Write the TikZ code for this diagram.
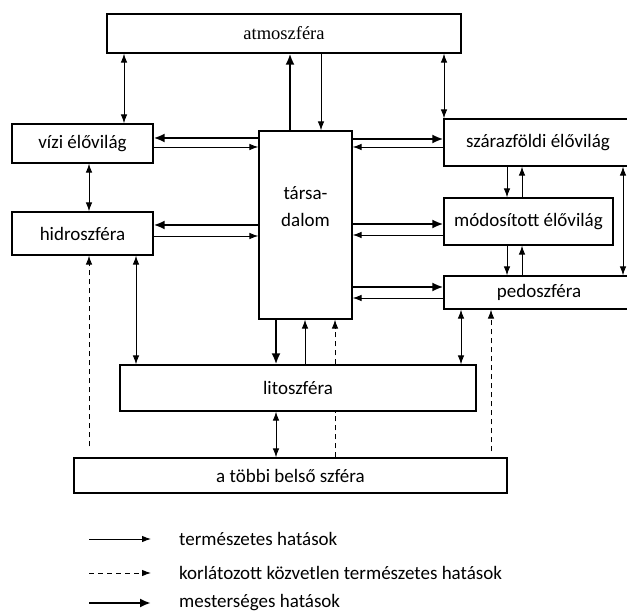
\documentclass[tikz,border=0pt]{standalone}
\usepackage{fontspec}
\setmainfont{Carlito}
\newfontfamily\atmfont{Liberation Serif}
\usetikzlibrary{arrows.meta}

\begin{document}
\begin{tikzpicture}[x=1pt,y=-1pt,>={Latex[length=9pt,width=6.5pt]},
        font=\fontsize{19}{22}\selectfont,
        main node/.style={rectangle,draw,line width=1.2pt,inner sep=0pt},
        natural/.style={line width=0.9pt},
        limited/.style={line width=0.9pt,dash pattern=on 5pt off 4pt},
        artificial/.style={line width=2.8pt,>={Latex[length=11pt,width=9pt]}}]

    \useasboundingbox (0,0) rectangle (627,612);

    \node[main node,minimum width=354pt,minimum height=39pt,font=\atmfont\fontsize{18.5}{22}\selectfont] (atm) at (284,33.5) {atmoszféra};
    \node[main node,minimum width=141pt,minimum height=39pt] (vizi) at (82.5,143.5) {vízi élővilág};
    \node[main node,minimum width=141pt,minimum height=43pt] (hidro) at (82.5,233.5) {hidroszféra};
    \node[main node,minimum width=93pt,minimum height=188pt,align=center,text depth=36pt] (tars) at (305.5,225) {társa-\\[5pt]dalom};
    \node[main node,minimum width=188pt,minimum height=47pt] (szaraz) at (538,142.5) {szárazföldi élővilág};
    \node[main node,minimum width=169pt,minimum height=47pt] (modos) at (528.5,221.5) {módosított élővilág};
    \node[main node,minimum width=190pt,minimum height=33pt] (pedo) at (539,292.5) {pedoszféra};
    \node[main node,minimum width=356pt,minimum height=46pt] (lito) at (298,388) {litoszféra};
    \node[main node,minimum width=433pt,minimum height=35pt] (tobbi) at (290.5,475.5) {a többi belső szféra};

    % up and down
    \draw[natural,<->] (atm.south -| 124,0) -- (vizi.north -| 124,0);
    \draw[artificial,->] (tars.north -| 290,0) -- (atm.south -| 290,0);
    \draw[natural,->] (atm.south -| 321,0) -- (tars.north -| 321,0);
    \draw[natural,<->] (atm.south -| 444,0) -- (szaraz.north -| 444,0);
    \draw[natural,<->] (vizi.south -| 89,0) -- (hidro.north -| 89,0);
    \draw[limited,->,shorten <=11pt] (tobbi.north -| 89,0) -- (hidro.south -| 89,0);
    \draw[natural,<->] (hidro.south -| 136,0) -- (lito.north -| 136,0);
    \draw[artificial,->] (tars.south -| 276,0) -- (lito.north -| 276,0);
    \draw[natural,->] (lito.north -| 305,0) -- (tars.south -| 305,0);
    \draw[limited] (tobbi.north -| 335,0) -- (lito.south -| 335,0);
    \draw[limited,->] (lito.north -| 335,0) -- (tars.south -| 335,0);
    \draw[natural,<->] (pedo.south -| 461,0) -- (lito.north -| 461,0);
    \draw[limited,->,shorten <=6pt] (tobbi.north -| 491,0) -- (pedo.south -| 491,0);
    \draw[natural,<->] (lito.south -| 276,0) -- (tobbi.north -| 276,0);
    \draw[natural,->] (szaraz.south -| 507,0) -- (modos.north -| 507,0);
    \draw[natural,->] (modos.north -| 522,0) -- (szaraz.south -| 522,0);
    \draw[natural,->] (modos.south -| 507,0) -- (pedo.north -| 507,0);
    \draw[natural,->] (pedo.north -| 522,0) -- (modos.south -| 522,0);
    \draw[natural,<->] (szaraz.south -| 623,0) -- (pedo.north -| 623,0);

    % left and right
    \draw[artificial,->] (tars.west |- 0,138) -- (vizi.east |- 0,138);
    \draw[natural,->] (vizi.east |- 0,147) -- (tars.west |- 0,147);
    \draw[artificial,->] (tars.west |- 0,225) -- (hidro.east |- 0,225);
    \draw[natural,->] (hidro.east |- 0,236) -- (tars.west |- 0,236);
    \draw[artificial,->] (tars.east |- 0,139) -- (szaraz.west |- 0,139);
    \draw[natural,->] (szaraz.west |- 0,147) -- (tars.east |- 0,147);
    \draw[artificial,->] (tars.east |- 0,224) -- (modos.west |- 0,224);
    \draw[natural,->] (modos.west |- 0,235) -- (tars.east |- 0,235);
    \draw[artificial,->] (tars.east |- 0,287) -- (pedo.west |- 0,287);
    \draw[natural,->] (pedo.west |- 0,298) -- (tars.east |- 0,298);

    % legend
    \node[anchor=west,inner sep=0pt] (leg1) at (179,539) {természetes hatások};
    \node[anchor=west,inner sep=0pt] (leg2) at (179,573) {korlátozott közvetlen természetes hatások};
    \node[anchor=west,inner sep=0pt] (leg3) at (179,603) {mesterséges hatások};
    \draw[natural,->] ([xshift=-90pt]leg1.west) -- ([xshift=-28pt]leg1.west);
    \draw[limited,->] ([xshift=-90pt]leg2.west) -- ([xshift=-28pt]leg2.west);
    \draw[artificial,->] ([xshift=-90pt]leg3.west) -- ([xshift=-28pt]leg3.west);

\end{tikzpicture}
\end{document}
